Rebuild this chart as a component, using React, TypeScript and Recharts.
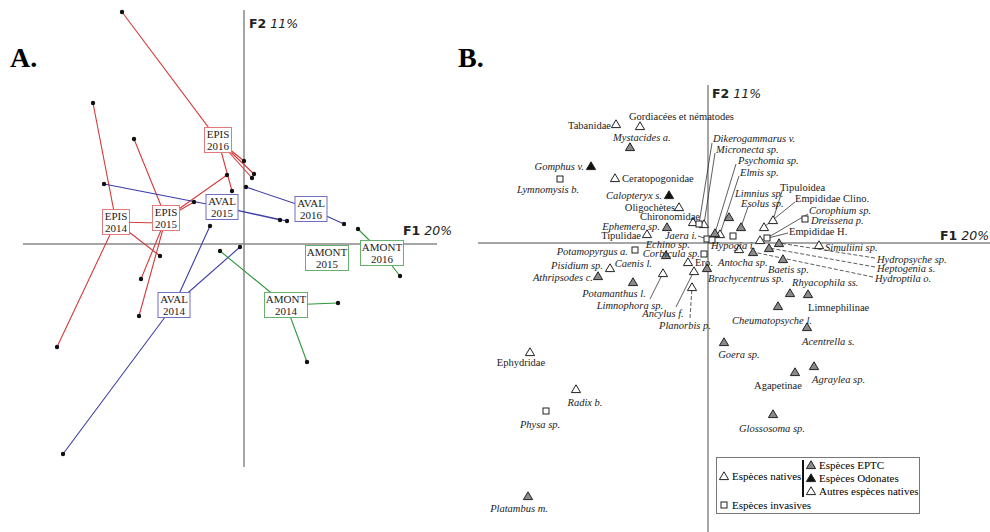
import React from "react";
import { ScatterChart, Scatter, XAxis, YAxis, ReferenceLine, Legend } from "recharts";

const serif = '"Liberation Serif", "Times New Roman", serif';
const sans = '"DejaVu Sans", sans-serif';

// ---------- A. sites x years (F1 / F2 scores)
const groups = ["EPIS 2014", "EPIS 2015", "EPIS 2016", "AVAL 2014", "AVAL 2015", "AVAL 2016", "AMONT 2014", "AMONT 2015", "AMONT 2016"];
const groupF1 = [-1.28, -0.78, -0.26, -0.7, -0.22, 0.67, 0.42, 0.83, 1.38];
const groupF2 = [0.22, 0.26, 1.04, -0.61, 0.37, 0.35, -0.61, -0.14, -0.09];
const sampleF1 = [
  [-1.51, -1.87, -0.84, -0.84],
  [-1.1, -1.03, -1.05, -0.5, -0.17],
  [-1.22, 0.0, 0.1, 0.08, -0.12],
  [-0.34, -0.04, -1.81],
  [-1.4, 0.36, 0.43],
  [0.02, 1.0],
  [-0.24, 0.94, 0.63],
  [1.02],
  [1.14, 1.56],
];
const sampleF2 = [
  [1.41, -1.03, -0.12, 0.21],
  [1.05, -0.35, -0.72, 0.42, 0.69],
  [2.32, 0.83, 0.7, 0.66, 0.53],
  [0.18, -0.03, -2.1],
  [0.6, 0.24, 0.23],
  [0.57, 0.2],
  [-0.07, -0.59, -1.18],
  [-0.23],
  [0.15, -0.32],
];

// ---------- B. taxa (F1 / F2 scores)
const species = [
  "Tabanidae", "Gordiacées et nématodes", "Mystacides a.", "Gomphus v.", "Lymnomysis b.", "Ceratopogonidae",
  "Calopteryx s.", "Oligochètes", "Chironomidae", "Ephemera sp.", "Tipulidae", "Dikerogammarus v.",
  "Micronecta sp.", "Psychomia sp.", "Elmis sp.", "Limnius sp.", "Esolus sp.", "Tipuloidea",
  "Empididae Clino.", "Corophium sp.", "Dreissena p.", "Empididae H.", "Simuliini sp.", "Hydropsyche sp.",
  "Heptogenia s.", "Hydroptila o.", "Baetis sp.", "Hypogia i.", "Antocha sp.", "Ero.",
  "Brachycentrus sp.", "Rhyacophila ss.", "Limnephilinae", "Cheumatopsyche l.", "Acentrella s.", "Goera sp.",
  "Agapetinae", "Agraylea sp.", "Glossosoma sp.", "Ephydridae", "Radix b.", "Physa sp.",
  "Platambus m.", "Potamopyrgus a.", "Caenis l.", "Corbicula sp.", "Jaera i.", "Echino sp.",
  "Pisidium sp.", "Athripsodes c.", "Potamanthus l.", "Limnophora sp.", "Ancylus f.", "Planorbis p.",
];
// E = EPTC, O = Odonates, N = autres natives, I = invasives
const speciesGroup = [
  "N", "N", "E", "O", "I", "N",
  "O", "N", "N", "E", "N", "I",
  "N", "E", "N", "E", "E", "N",
  "N", "I", "I", "N", "N", "E",
  "E", "E", "E", "I", "N", "N",
  "E", "E", "E", "E", "E", "E",
  "E", "E", "E", "N", "N", "I",
  "E", "I", "E", "I", "I", "I",
  "N", "E", "E", "N", "N", "N",
];
const speciesF1 = [
  -0.92, -0.68, -0.78, -1.17, -1.48, -0.93,
  -0.39, -0.29, -0.15, -0.41, -0.61, -0.09,
  -0.04, 0.07, 0.12, 0.21, 0.33, 0.65,
  0.56, 0.59, 0.97, 0.52, 1.11, 0.71,
  0.61, 0.45, 0.75, 0.25, 0.31, -0.2,
  -0.01, 0.82, 1.0, 0.7, 0.99, 0.16,
  0.87, 1.06, 0.65, -1.78, -1.32, -1.62,
  -1.8, -0.73, -0.42, -0.04, -0.01, 0.04,
  -0.98, -1.1, -0.75, -0.45, -0.14, -0.16,
];
const speciesF2 = [
  1.19, 1.17, 0.96, 0.77, 0.64, 0.65,
  0.48, 0.36, 0.21, 0.16, 0.09, 0.19,
  0.19, 0.1, 0.09, 0.26, 0.16, 0.23,
  0.16, 0.05, 0.24, 0.03, -0.02, 0.0,
  -0.05, -0.09, -0.16, 0.07, -0.06, -0.19,
  -0.25, -0.5, -0.51, -0.63, -0.84, -0.99,
  -1.29, -1.23, -1.71, -1.09, -1.46, -1.68,
  -2.53, -0.07, -0.12, -0.11, 0.04, 0.03,
  -0.25, -0.33, -0.39, -0.3, -0.28, -0.44,
];

// label placement (same units as the scores)
const labelF1 = [
  -0.97, -0.79, -0.95, -1.24, -1.6, -0.86,
  -0.46, -0.33, -0.08, -0.48, -0.67, 0.05,
  0.08, 0.3, 0.32, 0.27, 0.33, 0.72,
  0.87, 1.01, 1.03, 0.81, 1.17, 1.69,
  1.69, 1.67, 0.6, 0.03, 0.1, -0.13,
  0.0, 0.84, 1.0, 0.64, 0.94, 0.31,
  0.7, 1.04, 0.64, -1.87, -1.23, -1.68,
  -1.89, -0.8, -0.56, -0.08, -0.11, -0.18,
  -1.05, -1.15, -0.94, -0.78, -0.45, -0.23,
];
const labelF2 = [
  1.18, 1.27, 1.06, 0.77, 0.54, 0.65,
  0.48, 0.36, 0.27, 0.17, 0.08, 1.05,
  0.94, 0.83, 0.71, 0.5, 0.4, 0.56,
  0.45, 0.33, 0.23, 0.12, -0.04, -0.16,
  -0.25, -0.35, -0.26, -0.02, -0.19, -0.19,
  -0.35, -0.39, -0.64, -0.77, -0.98, -1.11,
  -1.42, -1.36, -1.85, -1.19, -1.59, -1.81,
  -2.65, -0.08, -0.2, -0.1, 0.08, -0.01,
  -0.22, -0.34, -0.5, -0.62, -0.7, -0.82,
];
const labelAnchor = [
  "end", "start", "start", "end", "middle", "start",
  "end", "end", "end", "end", "end", "start",
  "start", "start", "start", "start", "start", "start",
  "start", "start", "start", "start", "start", "start",
  "start", "start", "start", "start", "start", "start",
  "start", "start", "start", "middle", "start", "middle",
  "middle", "start", "middle", "middle", "middle", "middle",
  "middle", "end", "end", "end", "end", "end",
  "end", "end", "middle", "middle", "middle", "middle",
];

// leader lines: species, start point near the label, dashed?
const leaders: [string, number, number, boolean][] = [
  ["Dikerogammarus v.", 0.04, 1.0, false],
  ["Micronecta sp.", 0.07, 0.9, false],
  ["Psychomia sp.", 0.28, 0.79, false],
  ["Elmis sp.", 0.31, 0.67, false],
  ["Esolus sp.", 0.4, 0.36, false],
  ["Tipuloidea", 0.74, 0.52, false],
  ["Empididae Clino.", 0.87, 0.41, false],
  ["Corophium sp.", 1.0, 0.29, false],
  ["Empididae H.", 0.8, 0.1, false],
  ["Hydropsyche sp.", 1.67, -0.15, true],
  ["Heptogenia s.", 1.67, -0.24, true],
  ["Hydroptila o.", 1.65, -0.34, true],
  ["Jaera i.", -0.1, 0.07, false],
  ["Limnophora sp.", -0.58, -0.56, false],
  ["Ancylus f.", -0.32, -0.64, false],
  ["Planorbis p.", -0.18, -0.75, true],
];

const legendLeft = ["Espèces natives", "Espèces invasives"];
const legendRight = ["Espèces EPTC", "Espèces Odonates", "Autres espèces natives"];

const lineColor: Record<string, string> = { EPIS: "#d63a3a", AVAL: "#3c3ca8", AMONT: "#2f9a3a" };
const boxColor: Record<string, string> = { EPIS: "#e27a7a", AVAL: "#6e6ec2", AMONT: "#68b06e" };
const boxWidth: Record<string, number> = { EPIS: 27, AVAL: 32, AMONT: 43 };

const uprightRe = /idae|inae|oidea|Gordiac|Oligoch|Ero\./;

const Triangle = ({ cx, cy, fill }: any) => (
  <path d={`M${cx},${cy - 4.2}L${cx + 4.6},${cy + 3.6}L${cx - 4.6},${cy + 3.6}Z`} fill={fill} stroke="#222" strokeWidth={1} />
);
const Square = ({ cx, cy }: any) => (
  <rect x={cx - 3} y={cy - 3} width={6} height={6} fill="#fff" stroke="#222" strokeWidth={1} />
);

const SiteBox = (props: any) => {
  const { cx, cy, payload } = props;
  const [site, year] = payload.name.split(" ");
  const w = boxWidth[site];
  const h = 25;
  return (
    <g>
      <rect x={cx - w / 2} y={cy - h / 2} width={w} height={h} fill="#fff" stroke={boxColor[site]} strokeWidth={1} />
      <text x={cx} y={cy - 2} textAnchor="middle" fontFamily={serif} fontSize={11} fill="#222">{site}</text>
      <text x={cx} y={cy + 10} textAnchor="middle" fontFamily={serif} fontSize={11} fill="#222">{year}</text>
    </g>
  );
};

const SpeciesLabel = (props: any) => {
  const { cx, cy, payload } = props;
  return (
    <text
      x={cx}
      y={cy}
      dy="0.35em"
      textAnchor={payload.anchor}
      fontFamily={serif}
      fontSize={10.5}
      fontStyle={uprightRe.test(payload.name) ? "normal" : "italic"}
      fill="#222"
    >
      {payload.name}
    </text>
  );
};

const LegendBox = () => (
  <svg width={204} height={57}>
    <rect x={0.5} y={0.5} width={203} height={56} fill="#fff" stroke="#777" />
    <Triangle cx={8} cy={19} fill="#fff" />
    <text x={16} y={19} dy="0.35em" fontFamily={serif} fontSize={11}>{legendLeft[0]}</text>
    <line x1={87} y1={3} x2={87} y2={40} stroke="#111" strokeWidth={2} />
    <Triangle cx={95} cy={8} fill="#8a8a8a" />
    <Triangle cx={95} cy={21} fill="#111" />
    <Triangle cx={95} cy={34} fill="#fff" />
    {legendRight.map((t, i) => (
      <text key={t} x={103} y={8 + i * 13} dy="0.35em" fontFamily={serif} fontSize={11}>{t}</text>
    ))}
    <Square cx={8} cy={48} />
    <text x={16} y={48} dy="0.35em" fontFamily={serif} fontSize={11}>{legendLeft[1]}</text>
  </svg>
);

export default function App() {
  const centroids = groups.map((name, i) => ({ name, x: groupF1[i], y: groupF2[i] }));
  const stars = groups.map((_, i) =>
    sampleF1[i].flatMap((x, j) => [{ x: groupF1[i], y: groupF2[i] }, { x, y: sampleF2[i][j] }])
  );
  const samples = groups.flatMap((_, i) => sampleF1[i].map((x, j) => ({ x, y: sampleF2[i][j] })));

  const taxa = species.map((name, i) => ({ name, x: speciesF1[i], y: speciesF2[i], group: speciesGroup[i] }));
  const labels = species.map((name, i) => ({ name, x: labelF1[i], y: labelF2[i], anchor: labelAnchor[i] }));
  const byGroup = (g: string) => taxa.filter((t) => t.group === g);

  return (
    <div style={{ position: "absolute", left: 0, top: 0, width: 990, height: 532, background: "#fff", overflow: "hidden" }}>
      {/* A. */}
      <div style={{ position: "absolute", left: 0, top: 0 }}>
        <ScatterChart width={460} height={532} margin={{ top: 0, right: 0, bottom: 0, left: 0 }}>
          <XAxis type="number" dataKey="x" domain={[-2.44, 2.16]} hide allowDataOverflow />
          <YAxis type="number" dataKey="y" domain={[-2.88, 2.44]} hide allowDataOverflow />
          <ReferenceLine segment={[{ x: 0, y: 2.34 }, { x: 0, y: -2.23 }]} stroke="#888" strokeWidth={1.5} ifOverflow="visible" />
          <ReferenceLine segment={[{ x: -2.21, y: 0 }, { x: 1.93, y: 0 }]} stroke="#888" strokeWidth={1.5} ifOverflow="visible" />
          {stars.map((d, i) => (
            <Scatter
              key={groups[i]}
              data={d}
              line={{ stroke: lineColor[groups[i].split(" ")[0]], strokeWidth: 1.1 }}
              lineType="joint"
              shape={() => <g />}
              isAnimationActive={false}
            />
          ))}
          <Scatter data={samples} shape={(p: any) => <circle cx={p.cx} cy={p.cy} r={2.2} fill="#111" />} isAnimationActive={false} />
          <Scatter data={centroids} shape={SiteBox} isAnimationActive={false} />
        </ScatterChart>
      </div>

      {/* B. */}
      <div style={{ position: "absolute", left: 460, top: 0 }}>
        <ScatterChart width={530} height={532} margin={{ top: 0, right: 0, bottom: 0, left: 0 }}>
          <XAxis type="number" dataKey="x" domain={[-2.48, 2.82]} hide allowDataOverflow />
          <YAxis type="number" dataKey="y" domain={[-2.89, 2.43]} hide allowDataOverflow />
          <ReferenceLine segment={[{ x: 0, y: 1.58 }, { x: 0, y: -2.89 }]} stroke="#888" strokeWidth={1.5} ifOverflow="visible" />
          <ReferenceLine segment={[{ x: -2.3, y: 0 }, { x: 2.82, y: 0 }]} stroke="#888" strokeWidth={1.5} ifOverflow="visible" />
          {leaders.map(([name, x, y, dashed]) => {
            const i = species.indexOf(name);
            return (
              <ReferenceLine
                key={name}
                segment={[{ x, y }, { x: speciesF1[i], y: speciesF2[i] }]}
                stroke="#333"
                strokeWidth={0.8}
                strokeDasharray={dashed ? "4 2" : undefined}
                ifOverflow="visible"
              />
            );
          })}
          <Scatter data={byGroup("N")} shape={(p: any) => <Triangle cx={p.cx} cy={p.cy} fill="#fff" />} isAnimationActive={false} />
          <Scatter data={byGroup("E")} shape={(p: any) => <Triangle cx={p.cx} cy={p.cy} fill="#8a8a8a" />} isAnimationActive={false} />
          <Scatter data={byGroup("O")} shape={(p: any) => <Triangle cx={p.cx} cy={p.cy} fill="#111" />} isAnimationActive={false} />
          <Scatter data={byGroup("I")} shape={(p: any) => <Square cx={p.cx} cy={p.cy} />} isAnimationActive={false} />
          <Scatter data={labels} shape={SpeciesLabel} isAnimationActive={false} />
          <Legend
            layout="vertical"
            align="center"
            verticalAlign="middle"
            content={() => <LegendBox />}
            wrapperStyle={{ left: 256, top: 457, width: 204, height: 57 }}
          />
        </ScatterChart>
      </div>

      {/* titles and axis names */}
      <svg width={990} height={532} style={{ position: "absolute", left: 0, top: 0, pointerEvents: "none" }}>
        <text x={10} y={67} fontFamily={serif} fontWeight="bold" fontSize={28}>A.</text>
        <text x={458} y={67} fontFamily={serif} fontWeight="bold" fontSize={28}>B.</text>
        <text x={249} y={28} fontFamily={sans} fontSize={12.5} fill="#222">
          <tspan fontWeight="bold">F2</tspan> <tspan fontStyle="italic">11%</tspan>
        </text>
        <text x={403} y={235} fontFamily={sans} fontSize={12.5} fill="#222">
          <tspan fontWeight="bold">F1</tspan> <tspan fontStyle="italic">20%</tspan>
        </text>
        <text x={712} y={98} fontFamily={sans} fontSize={12.5} fill="#222">
          <tspan fontWeight="bold">F2</tspan> <tspan fontStyle="italic">11%</tspan>
        </text>
        <text x={940} y={240} fontFamily={sans} fontSize={12.5} fill="#222">
          <tspan fontWeight="bold">F1</tspan> <tspan fontStyle="italic">20%</tspan>
        </text>
      </svg>
    </div>
  );
}
